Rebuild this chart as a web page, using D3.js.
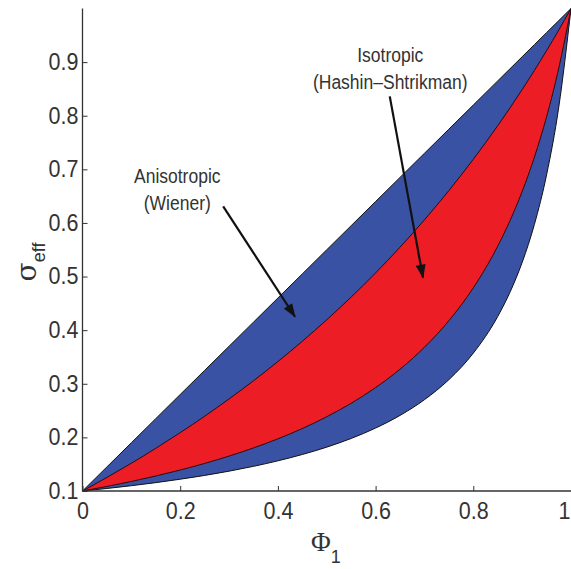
<!DOCTYPE html>
<html>
<head>
<meta charset="utf-8">
<script src="https://cdn.jsdelivr.net/npm/d3@7"></script>
<style>
  html, body { margin: 0; padding: 0; background: #fff; }
  svg { display: block; }
  .axis path, .axis line { stroke: #333; }
  .axis text { font-family: "Liberation Sans", Arial, sans-serif; fill: #333; }
</style>
</head>
<body>
<svg id="chart" width="571" height="569"></svg>
<script>
// Volume fraction of phase 1
const phi = [0, 0.05, 0.1, 0.15, 0.2, 0.25, 0.3, 0.35, 0.4, 0.45, 0.5, 0.55, 0.6,
             0.65, 0.7, 0.75, 0.8, 0.85, 0.875, 0.9, 0.925, 0.95, 0.975, 1];
// Wiener bounds (anisotropic)
const wienerUpper = [0.1, 0.145, 0.19, 0.235, 0.28, 0.325, 0.37, 0.415, 0.46, 0.505, 0.55, 0.595, 0.64,
                     0.685, 0.73, 0.775, 0.82, 0.865, 0.8875, 0.91, 0.9325, 0.955, 0.9775, 1];
const wienerLower = [0.1, 0.1047, 0.1099, 0.1156, 0.122, 0.129, 0.137, 0.146, 0.1563, 0.1681, 0.1818, 0.198, 0.2174,
                     0.241, 0.2703, 0.3077, 0.3571, 0.4255, 0.4706, 0.5263, 0.597, 0.6897, 0.8163, 1];
// Hashin–Shtrikman bounds (isotropic)
const hsUpper = [0.1, 0.1253, 0.1518, 0.1796, 0.2088, 0.2394, 0.2717, 0.3056, 0.3415, 0.3793, 0.4194, 0.4618, 0.5068,
                 0.5548, 0.6058, 0.6604, 0.7187, 0.7814, 0.8144, 0.8487, 0.8844, 0.9214, 0.9599, 1];
const hsLower = [0.1, 0.1085, 0.1178, 0.128, 0.1391, 0.1514, 0.1651, 0.1803, 0.1973, 0.2165, 0.2385, 0.2636, 0.2929,
                 0.3272, 0.3681, 0.4176, 0.4789, 0.5567, 0.604, 0.6586, 0.7224, 0.798, 0.8888, 1];

const xTicks = [0, 0.2, 0.4, 0.6, 0.8, 1];
const yTicks = [0.1, 0.2, 0.3, 0.4, 0.5, 0.6, 0.7, 0.8, 0.9];

const svg = d3.select("#chart");
const x = d3.scaleLinear().domain([0, 1]).range([82.5, 571]);
const y = d3.scaleLinear().domain([0.1, 1]).range([491, 8.5]);

// Render text a little taller than its natural width (narrow type)
function tall(sel, widthSize, heightSize) {
  sel.each(function () {
    const t = d3.select(this).attr("font-size", widthSize);
    const w = this.getComputedTextLength();
    t.attr("font-size", heightSize).attr("textLength", w).attr("lengthAdjust", "spacingAndGlyphs");
  });
}

const band = (upper, lower) => d3.area()
  .x((d, i) => x(phi[i]))
  .y0((d, i) => y(lower[i]))
  .y1((d, i) => y(upper[i]))
  .curve(d3.curveMonotoneX)(phi);

// Wiener band
svg.append("path")
  .attr("d", band(wienerUpper, wienerLower))
  .attr("fill", "#3a52a3")
  .attr("stroke", "#111")
  .attr("stroke-width", 1);

// Hashin–Shtrikman band
svg.append("path")
  .attr("d", band(hsUpper, hsLower))
  .attr("fill", "#ec1d25")
  .attr("stroke", "#2a0a10")
  .attr("stroke-width", 1);

// Axes with inward ticks
const yAxis = svg.append("g").attr("class", "axis")
  .attr("transform", `translate(${x(0)},0)`)
  .call(d3.axisLeft(y).tickValues(yTicks).tickFormat(d3.format(".1f"))
    .tickSizeInner(-5).tickSizeOuter(0).tickPadding(4));
yAxis.select(".domain").attr("d", `M0,${y(0.1)}V${y(1)}`).attr("stroke-width", 1.3);
yAxis.selectAll("text").call(tall, 21.5, 23);

const xAxis = svg.append("g").attr("class", "axis")
  .attr("transform", `translate(0,${y(0.1)})`)
  .call(d3.axisBottom(x).tickValues(xTicks).tickFormat(d => d === 0 || d === 1 ? d3.format("d")(d) : d3.format(".1f")(d))
    .tickSizeInner(-5).tickSizeOuter(0).tickPadding(12));
xAxis.select(".domain").attr("d", `M${x(0)},0H${x(1)}`).attr("stroke-width", 1.3);
xAxis.selectAll("text").call(tall, 21.5, 23);
// keep the last label inside the frame
xAxis.selectAll(".tick").filter(d => d === 1).select("text").attr("text-anchor", "end").attr("dx", -1);

// Axis titles
const yTitle = svg.append("text")
  .attr("transform", "translate(36,262) rotate(-90)")
  .attr("text-anchor", "middle")
  .attr("font-family", "'DejaVu Serif', 'Liberation Serif', serif")
  .attr("fill", "#333");
yTitle.append("tspan").attr("font-size", 28).text("σ");
yTitle.append("tspan").attr("font-size", 18).attr("font-family", "'Liberation Sans', Arial, sans-serif")
  .attr("dy", 9).text("eff");

const xTitle = svg.append("text")
  .attr("x", 326).attr("y", 551)
  .attr("text-anchor", "middle")
  .attr("font-family", "'Liberation Serif', 'Times New Roman', serif")
  .attr("fill", "#333");
xTitle.append("tspan").attr("font-size", 27).text("Φ");
xTitle.append("tspan").attr("font-size", 18).attr("font-family", "'Liberation Sans', Arial, sans-serif")
  .attr("dy", 12).text("1");

// Annotations
const defs = svg.append("defs");
defs.append("marker")
  .attr("id", "head")
  .attr("viewBox", "0 0 14 10")
  .attr("refX", 13).attr("refY", 5)
  .attr("markerWidth", 7).attr("markerHeight", 4.5)
  .attr("markerUnits", "strokeWidth")
  .attr("orient", "auto")
  .append("path").attr("d", "M0,0L14,5L0,10Z").attr("fill", "#111");

const notes = [
  { lines: ["Anisotropic", "(Wiener)"], tx: 0.194, ty: 0.675, from: [0.288, 0.631], to: [0.435, 0.425] },
  { lines: ["Isotropic", "(Hashin–Shtrikman)"], tx: 0.63, ty: 0.9, from: [0.629, 0.836], to: [0.697, 0.498] }
];

notes.forEach(n => {
  n.lines.forEach((l, i) => {
    svg.append("text")
      .attr("text-anchor", "middle")
      .attr("font-family", "'Liberation Sans', Arial, sans-serif")
      .attr("fill", "#333")
      .attr("x", x(n.tx)).attr("y", y(n.ty) + i * 27)
      .text(l)
      .call(tall, 17.5, 20);
  });
  svg.append("line")
    .attr("x1", x(n.from[0])).attr("y1", y(n.from[1]))
    .attr("x2", x(n.to[0])).attr("y2", y(n.to[1]))
    .attr("stroke", "#111").attr("stroke-width", 2.2)
    .attr("marker-end", "url(#head)");
});
</script>
</body>
</html>
